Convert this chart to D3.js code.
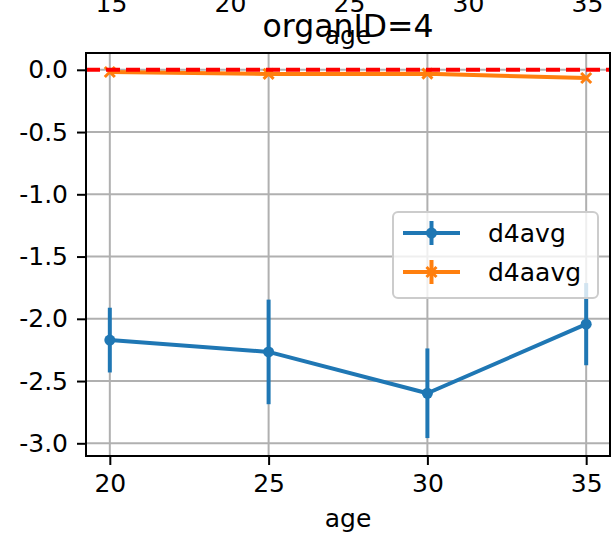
<!DOCTYPE html>
<html>
<head>
<meta charset="utf-8">
<script src="https://cdn.jsdelivr.net/npm/d3@7/dist/d3.min.js"></script>
<style>
  html, body { margin: 0; padding: 0; background: #fff; }
  svg { display: block; }
  text { font-family: "DejaVu Sans", sans-serif; fill: #000; }
</style>
</head>
<body>
<script>
// ---- data ----
const ages = [20, 25, 30, 35];
const d4avg = [-2.171, -2.266, -2.598, -2.043];
const d4avgErr = [0.26, 0.42, 0.36, 0.33];
const d4aavg = [-0.018, -0.033, -0.031, -0.066];
const d4aavgErr = [0.008, 0.008, 0.008, 0.008];
const xTicks = [20, 25, 30, 35];
const yTicks = [0.0, -0.5, -1.0, -1.5, -2.0, -2.5, -3.0];
const topTicks = [15, 20, 25, 30, 35];   // tick labels of the subplot above (cropped)
const seriesNames = ["d4avg", "d4aavg"];
const colors = ["#1f77b4", "#ff7f0e"];

// ---- layout ----
const W = 611, H = 539;
const L = 86, R = 610, T = 53, B = 456;
const FS = 25;

const svg = d3.select("body").append("svg").attr("width", W).attr("height", H);

const x = d3.scaleLinear().domain([19.25, 35.75]).range([L, R]);
const y = d3.scaleLinear().domain([-3.102, 0.135]).range([B, T]);
const xTop = d3.scaleLinear().domain([15, 35]).range([111, 587]);

// grid
const grid = svg.append("g");
grid.selectAll("line.gx").data(xTicks).join("line")
  .attr("x1", d => x(d)).attr("x2", d => x(d)).attr("y1", T).attr("y2", B)
  .attr("stroke", "#b0b0b0").attr("stroke-width", 2);
grid.selectAll("line.gy").data(yTicks).join("line")
  .attr("y1", d => y(d)).attr("y2", d => y(d)).attr("x1", L).attr("x2", R)
  .attr("stroke", "#b0b0b0").attr("stroke-width", 2);

// axes
const xAxis = d3.axisBottom(x).tickValues(xTicks).tickFormat(d3.format("d"))
  .tickSize(9).tickPadding(9);
const gx = svg.append("g").attr("transform", `translate(0,${B})`).call(xAxis);
gx.select(".domain").remove();
gx.selectAll("line").attr("stroke", "#000").attr("stroke-width", 2);
gx.selectAll("text").attr("font-size", FS).attr("font-family", "DejaVu Sans");

const yAxis = d3.axisLeft(y).tickValues(yTicks).tickFormat(d3.format(".1f"))
  .tickSize(9).tickPadding(9);
const gy = svg.append("g").attr("transform", `translate(${L},0)`).call(yAxis);
gy.select(".domain").remove();
gy.selectAll("line").attr("stroke", "#000").attr("stroke-width", 2);
gy.selectAll("text").attr("font-size", FS).attr("font-family", "DejaVu Sans")
  .text(d => d3.format(".1f")(d).replace("−", "-"));

// top (cropped) tick labels from the subplot above
const gt = svg.append("g").attr("transform", "translate(0,12)")
  .call(d3.axisBottom(xTop).tickValues(topTicks).tickFormat(d3.format("d")).tickSize(0).tickPadding(0));
gt.select(".domain").remove();
gt.selectAll("text").attr("font-size", FS).attr("font-family", "DejaVu Sans")
  .attr("dy", 0).attr("y", 0);

// series
svg.append("defs").append("clipPath").attr("id", "clip")
  .append("rect").attr("x", L).attr("y", T).attr("width", R - L).attr("height", B - T);
const plot = svg.append("g").attr("clip-path", "url(#clip)");

const lineGen = d3.line().x(d => x(d[0])).y(d => y(d[1]));

// blue
const blue = ages.map((a, i) => [a, d4avg[i], d4avgErr[i]]);
plot.selectAll("line.eb").data(blue).join("line")
  .attr("x1", d => x(d[0])).attr("x2", d => x(d[0]))
  .attr("y1", d => y(d[1] + d[2])).attr("y2", d => y(d[1] - d[2]))
  .attr("stroke", colors[0]).attr("stroke-width", 4);
plot.append("path").datum(blue).attr("d", lineGen)
  .attr("fill", "none").attr("stroke", colors[0]).attr("stroke-width", 4).attr("stroke-linejoin", "round");
plot.selectAll("circle.m").data(blue).join("circle")
  .attr("cx", d => x(d[0])).attr("cy", d => y(d[1])).attr("r", 5.5).attr("fill", colors[0]);

// orange
const orange = ages.map((a, i) => [a, d4aavg[i], d4aavgErr[i]]);
plot.selectAll("line.eo").data(orange).join("line")
  .attr("x1", d => x(d[0])).attr("x2", d => x(d[0]))
  .attr("y1", d => y(d[1] + d[2])).attr("y2", d => y(d[1] - d[2]))
  .attr("stroke", colors[1]).attr("stroke-width", 4);
plot.append("path").datum(orange).attr("d", lineGen)
  .attr("fill", "none").attr("stroke", colors[1]).attr("stroke-width", 4).attr("stroke-linejoin", "round");
const xm = 5;
orange.forEach(d => {
  const cx = x(d[0]), cy = y(d[1]);
  plot.append("path")
    .attr("d", `M${cx - xm},${cy - xm}L${cx + xm},${cy + xm}M${cx - xm},${cy + xm}L${cx + xm},${cy - xm}`)
    .attr("stroke", colors[1]).attr("stroke-width", 3).attr("fill", "none");
});

// red dashed zero line
plot.append("line").attr("x1", L).attr("x2", R).attr("y1", y(0)).attr("y2", y(0))
  .attr("stroke", "#ff0000").attr("stroke-width", 4).attr("stroke-dasharray", "14,6");

// frame
svg.append("rect").attr("x", L).attr("y", T).attr("width", R - L).attr("height", B - T)
  .attr("fill", "none").attr("stroke", "#000").attr("stroke-width", 2);

// legend
const lg = svg.append("g");
lg.append("rect").attr("x", 393).attr("y", 212).attr("width", 205).attr("height", 86)
  .attr("rx", 5).attr("ry", 5)
  .attr("fill", "#fff").attr("fill-opacity", 0.8)
  .attr("stroke", "#cccccc").attr("stroke-width", 2);
const rowsY = [233, 272];
seriesNames.forEach((name, i) => {
  const cy = rowsY[i];
  lg.append("line").attr("x1", 403).attr("x2", 460).attr("y1", cy).attr("y2", cy)
    .attr("stroke", colors[i]).attr("stroke-width", 4);
  lg.append("line").attr("x1", 431.5).attr("x2", 431.5).attr("y1", cy - 12).attr("y2", cy + 12)
    .attr("stroke", colors[i]).attr("stroke-width", 4);
  if (i === 0) {
    lg.append("circle").attr("cx", 431.5).attr("cy", cy).attr("r", 5.5).attr("fill", colors[i]);
  } else {
    lg.append("path")
      .attr("d", `M${431.5 - xm},${cy - xm}L${431.5 + xm},${cy + xm}M${431.5 - xm},${cy + xm}L${431.5 + xm},${cy - xm}`)
      .attr("stroke", colors[i]).attr("stroke-width", 3);
  }
  lg.append("text").attr("x", 488).attr("y", cy + 9).attr("font-size", FS).text(name);
});

// title and labels
svg.append("text").attr("x", (L + R) / 2).attr("y", 37).attr("text-anchor", "middle")
  .attr("font-size", 31.5).text("organID=4");
svg.append("text").attr("x", (L + R) / 2).attr("y", 44).attr("text-anchor", "middle")
  .attr("font-size", FS).text("age");
svg.append("text").attr("x", (L + R) / 2).attr("y", 527).attr("text-anchor", "middle")
  .attr("font-size", FS).text("age");
</script>
</body>
</html>
